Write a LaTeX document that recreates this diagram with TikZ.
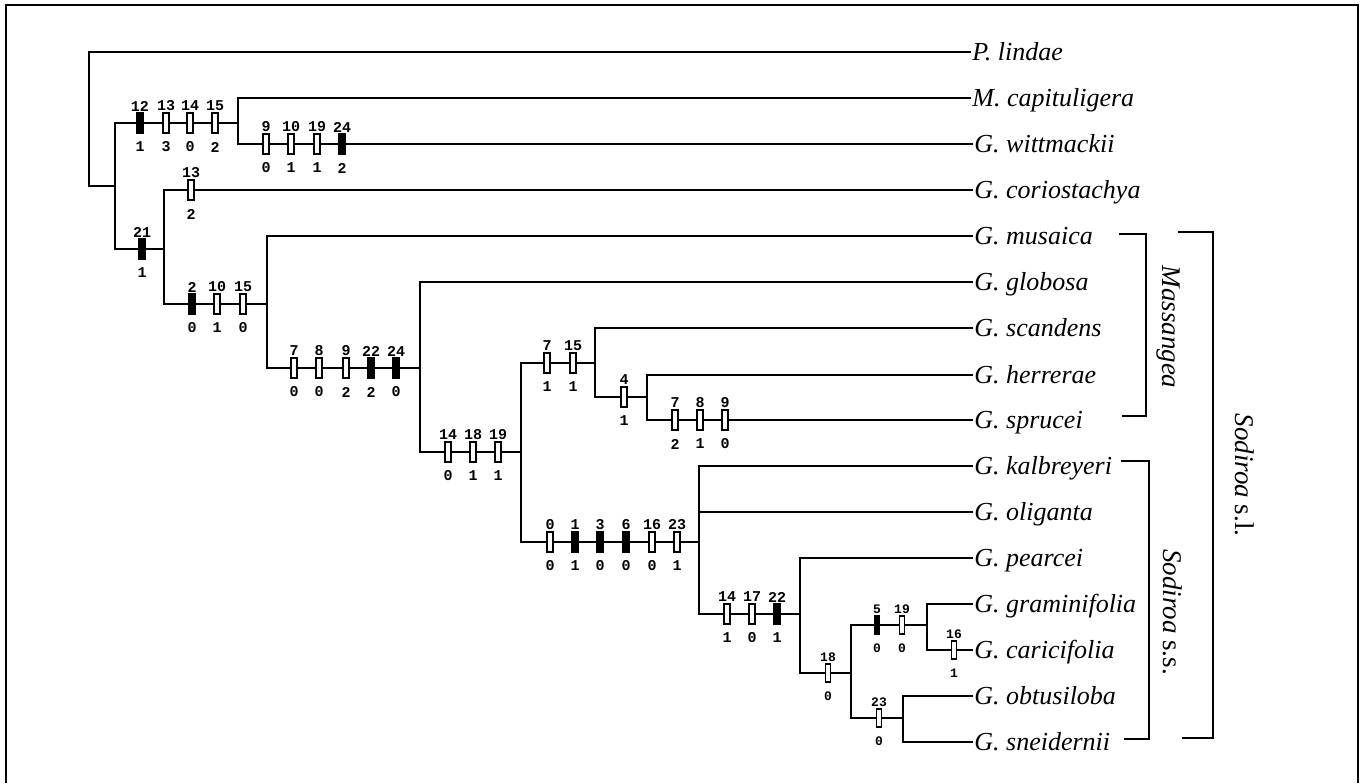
\documentclass[tikz,border=0pt]{standalone}
\usepackage{fontspec}
\setmainfont{Liberation Serif}
\newfontfamily\numfont{Liberation Mono}
\tikzset{
  br/.style={line width=1pt, line cap=rect},
  bk/.style={line width=1.3pt, line cap=rect},
  mk/.style={draw, rectangle, line width=0.6pt, minimum width=3pt, minimum height=10pt, inner sep=0pt},
  mks/.style={draw, rectangle, line width=0.55pt, minimum width=2.8pt, minimum height=9pt, inner sep=0pt},
  lab/.style={font=\numfont\bfseries\fontsize{7.5}{7.5}\selectfont, inner sep=0pt},
  labs/.style={font=\numfont\bfseries\fontsize{6.5}{6.5}\selectfont, inner sep=0pt},
  tx/.style={anchor=west, inner xsep=1pt, inner ysep=0pt, text height=8.6pt, text depth=0pt,
    font=\itshape\fontsize{13}{13}\selectfont},
  cl/.style={rotate=-90, inner sep=0pt, font=\itshape\fontsize{13.5}{13.5}\selectfont},
}
% x y label value fill
\newcommand\chr[5]{%
  \node[mk,fill=#5] (mk-#1-#2) at (#1,#2) {};
  \node[lab] (mt-#1-#2) at ({#1},{#2-17}) {#3};
  \node[lab] (mb-#1-#2) at ({#1},{#2+24}) {#4};
}
\newcommand\chrs[5]{%
  \node[mks,fill=#5] (mk-#1-#2) at (#1,#2) {};
  \node[labs] (mt-#1-#2) at ({#1},{#2-16}) {#3};
  \node[labs] (mb-#1-#2) at ({#1},{#2+23}) {#4};
}
\begin{document}
\begin{tikzpicture}[x=0.5pt, y=-0.5pt]
\useasboundingbox (0,0) rectangle (1365,783);
% frame
\coordinate (f1) at (6,783);
\coordinate (f2) at (6,5);
\coordinate (f3) at (1358,5);
\coordinate (f4) at (1358,783);
\draw[line width=1pt] (f1) -- (f2) -- (f3) -- (f4);

% taxa
\node[tx] (lindae)   at (970,52)  {P. lindae};
\node[tx] (capit)    at (970,98)  {M. capituligera};
\node[tx] (witt)     at (972,144) {G. wittmackii};
\node[tx] (corio)    at (972,190) {G. coriostachya};
\node[tx] (musaica)  at (972,236) {G. musaica};
\node[tx] (globosa)  at (972,282) {G. globosa};
\node[tx] (scandens) at (972,328) {G. scandens};
\node[tx] (herrerae) at (972,375) {G. herrerae};
\node[tx] (sprucei)  at (972,420) {G. sprucei};
\node[tx] (kalb)     at (972,466) {G. kalbreyeri};
\node[tx] (olig)     at (972,512) {G. oliganta};
\node[tx] (pearcei)  at (972,558) {G. pearcei};
\node[tx] (gram)     at (972,604) {G. graminifolia};
\node[tx] (caric)    at (972,650) {G. caricifolia};
\node[tx] (obtus)    at (972,696) {G. obtusiloba};
\node[tx] (sneid)    at (972,742) {G. sneidernii};

% internal nodes
\coordinate (nA) at (89,186);
\coordinate (nB) at (115,186);
\coordinate (nC) at (238,123);
\coordinate (nD) at (164,249);
\coordinate (nE) at (267,304);
\coordinate (nF) at (420,368);
\coordinate (nG) at (521,452);
\coordinate (nH) at (595,363);
\coordinate (nI) at (647,397);
\coordinate (nJ) at (699,542);
\coordinate (nK) at (800,614);
\coordinate (nL) at (851,673);
\coordinate (nM) at (927,625);
\coordinate (nN) at (903,718);

% branches
\draw[br] (nA) |- (lindae.west);
\draw[br] (nA) -- (nB);
\draw[br] (nB) |- (nC);
\draw[br] (nB) |- (nD);
\draw[br] (nC) |- (capit.west);
\draw[br] (nC) |- (witt.west);
\draw[br] (nD) |- (corio.west);
\draw[br] (nD) |- (nE);
\draw[br] (nE) |- (musaica.west);
\draw[br] (nE) |- (nF);
\draw[br] (nF) |- (globosa.west);
\draw[br] (nF) |- (nG);
\draw[br] (nG) |- (nH);
\draw[br] (nG) |- (nJ);
\draw[br] (nH) |- (scandens.west);
\draw[br] (nH) |- (nI);
\draw[br] (nI) |- (herrerae.west);
\draw[br] (nI) |- (sprucei.west);
\draw[br] (nJ) |- (kalb.west);
\draw[br] (nJ) |- (olig.west);
\draw[br] (nJ) |- (nK);
\draw[br] (nK) |- (pearcei.west);
\draw[br] (nK) |- (nL);
\draw[br] (nL) |- (nM);
\draw[br] (nL) |- (nN);
\draw[br] (nM) |- (gram.west);
\draw[br] (nM) |- (caric.west);
\draw[br] (nN) |- (obtus.west);
\draw[br] (nN) |- (sneid.west);

% character marks
\chr{140}{123}{12}{1}{black}
\chr{166}{123}{13}{3}{white}
\chr{190}{123}{14}{0}{white}
\chr{215}{123}{15}{2}{white}
\chr{266}{144}{9}{0}{white}
\chr{291}{144}{10}{1}{white}
\chr{317}{144}{19}{1}{white}
\chr{342}{144}{24}{2}{black}
\chr{191}{190}{13}{2}{white}
\chr{142}{249}{21}{1}{black}
\chr{192}{304}{2}{0}{black}
\chr{217}{304}{10}{1}{white}
\chr{243}{304}{15}{0}{white}
\chr{294}{368}{7}{0}{white}
\chr{319}{368}{8}{0}{white}
\chr{346}{368}{9}{2}{white}
\chr{371}{368}{22}{2}{black}
\chr{396}{368}{24}{0}{black}
\chr{448}{452}{14}{0}{white}
\chr{473}{452}{18}{1}{white}
\chr{498}{452}{19}{1}{white}
\chr{547}{363}{7}{1}{white}
\chr{573}{363}{15}{1}{white}
\chr{624}{397}{4}{1}{white}
\chr{675}{420}{7}{2}{white}
\chr{700}{420}{8}{1}{white}
\chr{725}{420}{9}{0}{white}
\chr{550}{542}{0}{0}{white}
\chr{575}{542}{1}{1}{black}
\chr{600}{542}{3}{0}{black}
\chr{626}{542}{6}{0}{black}
\chr{652}{542}{16}{0}{white}
\chr{677}{542}{23}{1}{white}
\chr{727}{614}{14}{1}{white}
\chr{752}{614}{17}{0}{white}
\chr{777}{614}{22}{1}{black}
\chrs{828}{673}{18}{0}{white}
\chrs{877}{625}{5}{0}{black}
\chrs{902}{625}{19}{0}{white}
\chrs{954}{650}{16}{1}{white}
\chrs{879}{718}{23}{0}{white}

% clade brackets
\coordinate (ma1) at (1120,234);
\coordinate (ma2) at (1146,416);
\coordinate (ma3) at (1123,416);
\draw[bk] (ma1) -| (ma2) -- (ma3);
\coordinate (ss1) at (1122,461);
\coordinate (ss2) at (1149,739);
\coordinate (ss3) at (1125,739);
\draw[bk] (ss1) -| (ss2) -- (ss3);
\coordinate (sl1) at (1179,232);
\coordinate (sl2) at (1213,738);
\coordinate (sl3) at (1183,738);
\draw[bk] (sl1) -| (sl2) -- (sl3);

\node[cl] (massangea) at (1168,327) {Massangea};
\node[cl] (sodss) at (1173,612) {Sodiroa {\upshape s.s.}};
\node[cl] (sodsl) at (1245,475) {Sodiroa {\upshape s.l.}};
\end{tikzpicture}
\end{document}
